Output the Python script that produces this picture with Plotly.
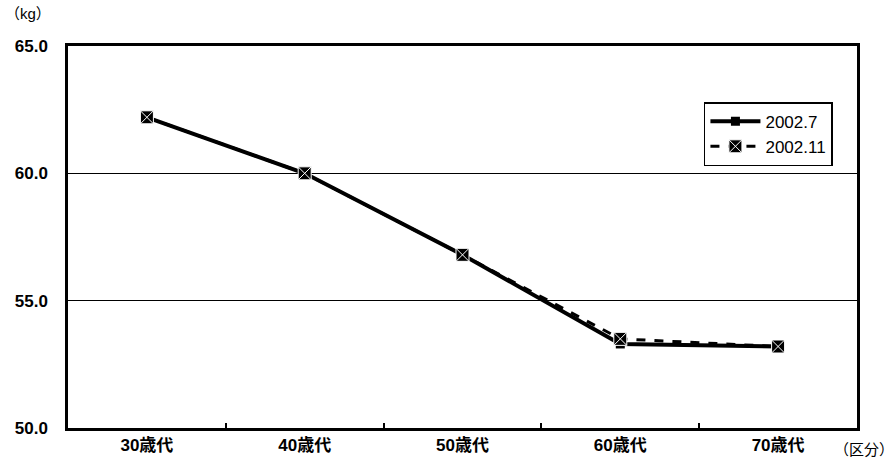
import plotly.graph_objects as go

# Age groups on the x axis
categories = ["30歳代", "40歳代", "50歳代", "60歳代", "70歳代"]

# Average body weight (kg) per survey
weight_2002_07 = [62.2, 60.0, 56.8, 53.3, 53.2]
weight_2002_11 = [62.2, 60.0, 56.8, 53.5, 53.2]

series_names = ["2002.7", "2002.11"]
y_ticks = [50, 55, 60, 65]
y_tick_labels = ["50.0", "55.0", "60.0", "65.0"]

FONT = "Liberation Sans, Noto Sans CJK JP, Arial, sans-serif"

fig = go.Figure()

fig.add_trace(go.Scatter(
    x=categories, y=weight_2002_07, name=series_names[0],
    mode="lines+markers",
    line=dict(color="black", width=4),
    marker=dict(symbol="square", size=9, color="black"),
))

fig.add_trace(go.Scatter(
    x=categories, y=weight_2002_11, name=series_names[1],
    mode="lines+markers",
    line=dict(color="black", width=3, dash="dash"),
    marker=dict(symbol="square-x", size=13, color="black",
                line=dict(color="white", width=1)),
))

fig.update_layout(
    width=896, height=461,
    margin=dict(l=68, r=39, t=46, b=33),
    paper_bgcolor="white", plot_bgcolor="white",
    font=dict(family=FONT, size=16, color="black"),
    legend=dict(
        x=0.806, y=0.853, xanchor="left", yanchor="top",
        bgcolor="white", bordercolor="black", borderwidth=1.5,
        font=dict(family=FONT, size=17, color="black"),
        itemwidth=50,
        tracegroupgap=0,
    ),
    showlegend=True,
)

fig.update_xaxes(
    type="category",
    range=[-0.5, 4.5],
    tickson="boundaries",
    ticks="inside", ticklen=5, tickwidth=2, tickcolor="black",
    showgrid=False,
    showline=True, linecolor="black", linewidth=2.5, mirror=True,
    tickfont=dict(family=FONT, size=17, color="black", weight="bold"),
    ticklabelstandoff=0,
    automargin=False,
)

fig.update_yaxes(
    range=[50, 65],
    tickvals=y_ticks, ticktext=y_tick_labels,
    ticks="", showgrid=True, gridcolor="black", gridwidth=1,
    showline=True, linecolor="black", linewidth=2.5, mirror=True,
    zeroline=False,
    tickfont=dict(family=FONT, size=17, color="black", weight="bold"),
    ticklabelstandoff=14,
    automargin=False,
)

fig.add_annotation(
    text="（kg）", xref="paper", yref="paper", x=-0.082, y=1.085,
    xanchor="left", yanchor="middle", showarrow=False,
    font=dict(family=FONT, size=15, color="black"),
)
fig.add_annotation(
    text="（区分）", xref="paper", yref="paper", x=1.049, y=-0.03,
    xanchor="right", yanchor="top", showarrow=False,
    font=dict(family=FONT, size=15, color="black"),
)

fig.write_html("out.html")
